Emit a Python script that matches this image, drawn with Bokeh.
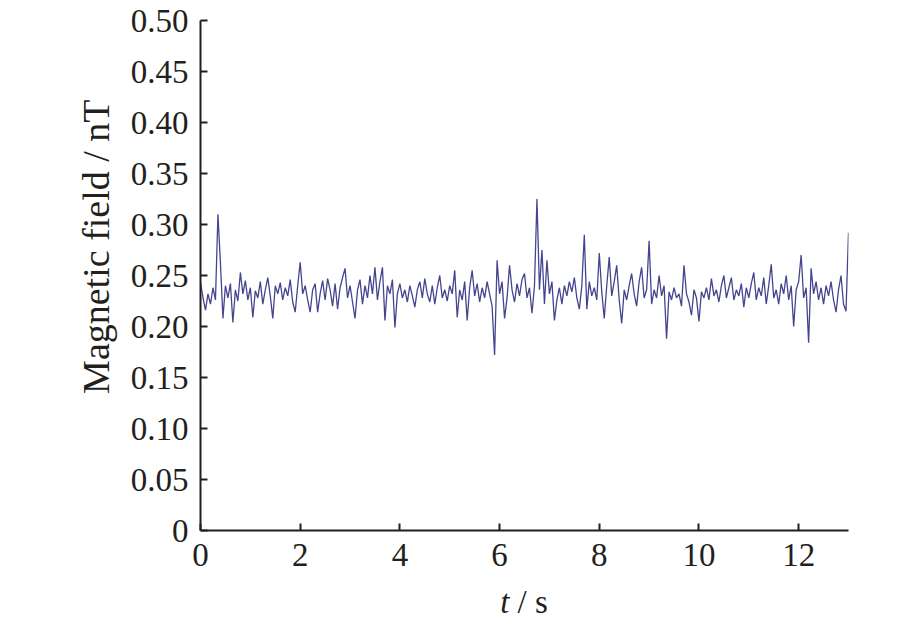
from bokeh.plotting import figure
from bokeh.models import Range1d, FixedTicker, PrintfTickFormatter, Div, Title
from bokeh.layouts import column
from bokeh.embed import file_html
from bokeh.resources import INLINE

dt = 0.05
field_nT = [
    0.243, 0.228, 0.216, 0.232, 0.222, 0.238, 0.226, 0.310, 0.262, 0.208,
    0.240, 0.228, 0.242, 0.204, 0.236, 0.225, 0.253, 0.232, 0.245, 0.226,
    0.238, 0.209, 0.235, 0.228, 0.244, 0.222, 0.236, 0.248, 0.230, 0.208,
    0.240, 0.232, 0.243, 0.226, 0.238, 0.230, 0.246, 0.224, 0.214, 0.240,
    0.263, 0.232, 0.240, 0.226, 0.214, 0.236, 0.242, 0.214, 0.232, 0.245,
    0.226, 0.247, 0.236, 0.220, 0.242, 0.217, 0.238, 0.248, 0.257, 0.228,
    0.240, 0.224, 0.208, 0.236, 0.246, 0.222, 0.240, 0.228, 0.250, 0.232,
    0.258, 0.226, 0.244, 0.258, 0.206, 0.240, 0.232, 0.246, 0.199, 0.232,
    0.242, 0.228, 0.236, 0.224, 0.240, 0.230, 0.219, 0.236, 0.244, 0.228,
    0.247, 0.232, 0.224, 0.240, 0.222, 0.238, 0.250, 0.228, 0.236, 0.225,
    0.240, 0.232, 0.255, 0.209, 0.236, 0.226, 0.244, 0.206, 0.238, 0.255,
    0.230, 0.242, 0.224, 0.238, 0.228, 0.244, 0.232, 0.220, 0.172, 0.265,
    0.232, 0.244, 0.208, 0.228, 0.260, 0.236, 0.224, 0.242, 0.230, 0.246,
    0.252, 0.228, 0.238, 0.213, 0.240, 0.325, 0.236, 0.275, 0.222, 0.265,
    0.232, 0.244, 0.206, 0.226, 0.238, 0.222, 0.240, 0.230, 0.244, 0.234,
    0.248, 0.228, 0.217, 0.240, 0.290, 0.217, 0.244, 0.230, 0.238, 0.226,
    0.272, 0.234, 0.208, 0.240, 0.268, 0.230, 0.244, 0.260, 0.226, 0.203,
    0.236, 0.226, 0.240, 0.252, 0.232, 0.220, 0.244, 0.258, 0.228, 0.236,
    0.284, 0.222, 0.236, 0.228, 0.250, 0.230, 0.240, 0.188, 0.234, 0.226,
    0.238, 0.228, 0.232, 0.220, 0.260, 0.232, 0.224, 0.211, 0.236, 0.228,
    0.205, 0.234, 0.228, 0.238, 0.226, 0.247, 0.230, 0.236, 0.224, 0.240,
    0.250, 0.228, 0.238, 0.248, 0.226, 0.236, 0.230, 0.242, 0.219, 0.238,
    0.228, 0.242, 0.253, 0.226, 0.238, 0.230, 0.248, 0.222, 0.240, 0.261,
    0.228, 0.236, 0.222, 0.242, 0.232, 0.250, 0.226, 0.240, 0.200, 0.236,
    0.244, 0.270, 0.228, 0.238, 0.184, 0.257, 0.232, 0.244, 0.226, 0.238,
    0.222, 0.240, 0.230, 0.244, 0.226, 0.214, 0.236, 0.250, 0.222, 0.215,
    0.292,
]
time_s = [round(i * dt, 2) for i in range(len(field_nT))]

x_ticks = [0, 2, 4, 6, 8, 10, 12]
y_ticks = [0, 0.05, 0.10, 0.15, 0.20, 0.25, 0.30, 0.35, 0.40, 0.45, 0.50]

FONT = "Liberation Serif"
INK = "#231f20"

p = figure(width=900, height=578, output_backend="svg", toolbar_location=None,
           x_range=Range1d(0, 13), y_range=Range1d(0, 0.5),
           min_border_left=200, min_border_top=20, min_border_right=52,
           min_border_bottom=48)
p.outline_line_color = None
p.xgrid.visible = False
p.ygrid.visible = False

p.line(time_s, field_nT, line_color="#45458f", line_width=1.3)

for ax in (p.xaxis[0], p.yaxis[0]):
    ax.axis_line_color = INK
    ax.axis_line_width = 2
    ax.major_tick_line_color = INK
    ax.major_tick_line_width = 2
    ax.major_tick_in = 7
    ax.major_tick_out = 0
    ax.minor_tick_line_color = None
    ax.major_label_text_font = FONT
    ax.major_label_text_font_size = "33px"
    ax.major_label_text_color = INK

p.xaxis.ticker = FixedTicker(ticks=x_ticks)
p.yaxis.ticker = FixedTicker(ticks=y_ticks)
p.yaxis.formatter = PrintfTickFormatter(format="%.2f")
p.yaxis.major_label_overrides = {0: "0"}
p.xaxis.major_label_standoff = 13
p.yaxis.major_label_standoff = 12

ylabel = Title(text="Magnetic field / nT", align="right", offset=79,
               text_font=FONT, text_font_size="38px", text_font_style="normal",
               text_color=INK, standoff=22)
p.add_layout(ylabel, "left")

xlabel = Div(
    text='<i>t</i>&nbsp;/&nbsp;s',
    width=648, height=40, margin=(8, 0, 0, 200),
    styles={"font-family": FONT, "font-size": "33px", "line-height": "1",
            "text-align": "center", "color": INK, "width": "648px"},
)

layout = column(p, xlabel, spacing=0)
open("out.html", "w").write(file_html(layout, INLINE))
